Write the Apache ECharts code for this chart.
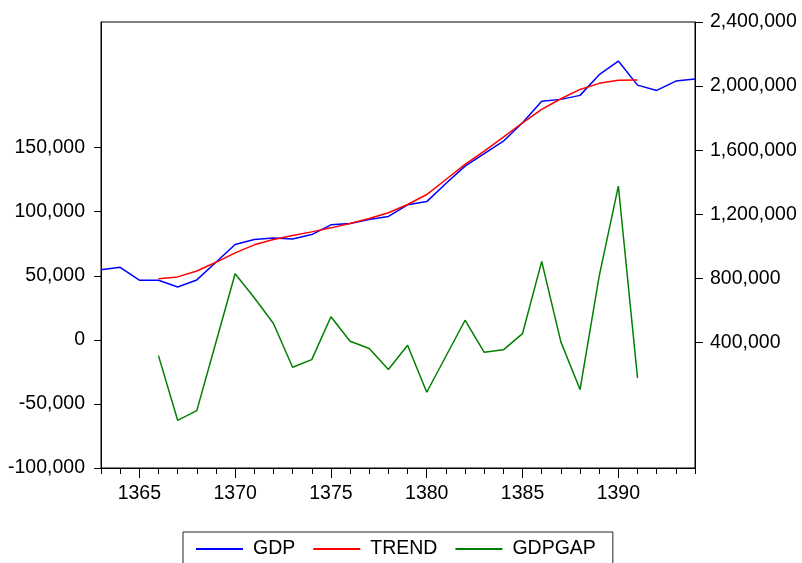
<!DOCTYPE html>
<html>
<head>
<meta charset="utf-8">
<title>GDP / TREND / GDPGAP</title>
<script src="https://cdn.jsdelivr.net/npm/echarts@6/dist/echarts.min.js"></script>
<style>
    html, body { margin: 0; padding: 0; background: #fff; }
    #gapChart { width: 802px; height: 563px; }
</style>
</head>
<body>
<div id="gapChart"></div>
<script>
// years on the x axis
var years = [1363, 1364, 1365, 1366, 1367, 1368, 1369, 1370, 1371, 1372, 1373, 1374, 1375, 1376, 1377, 1378,
    1379, 1380, 1381, 1382, 1383, 1384, 1385, 1386, 1387, 1388, 1389, 1390, 1391, 1392, 1393, 1394];

// GDP (right axis), 1363-1394
var gdp = [854000, 869000, 788000, 788000, 746000, 790000, 900000, 1011000, 1042000, 1052000, 1046000, 1073000,
    1134000, 1142000, 1167000, 1186000, 1259000, 1279000, 1392000, 1500000, 1579000, 1656000, 1771000, 1906000,
    1917000, 1942000, 2071000, 2156000, 2006000, 1973000, 2031000, 2044000];

// HP trend (right axis), 1366-1391
var trend = [798000, 809000, 846000, 900000, 959000, 1009000, 1042000, 1067000, 1090000, 1115000, 1142000, 1173000,
    1209000, 1261000, 1323000, 1417000, 1511000, 1594000, 1681000, 1771000, 1854000, 1921000, 1979000, 2017000,
    2036000, 2038000];

// output gap (left axis), 1366-1391
var gdpGap = [-12300, -62800, -55200, -1900, 51600, 32800, 12700, -21400, -15400, 18000, -1100, -6800,
    -23200, -4200, -40900, -12800, 15300, -9700, -7800, 4900, 61200, -1600, -38800, 49700, 120000, -29700];

var leftTicks = [-100000, -50000, 0, 50000, 100000, 150000];
var rightTicks = [400000, 800000, 1200000, 1600000, 2000000, 2400000];
var firstYear = 1366;

// pad the short series so they line up with years
function padSeries(arr) {
    var out = [];
    var start = years.indexOf(firstYear);
    for (var i = 0; i < years.length; i++) {
        var j = i - start;
        out.push(j >= 0 && j < arr.length ? arr[j] : null);
    }
    return out;
}

function fmt(v) {
    return Number(v).toLocaleString('en-US');
}

var font = "'Liberation Sans', Arial, sans-serif";
var txt = { color: '#000', fontSize: 19.5, fontFamily: font };

var chart = echarts.init(document.getElementById('gapChart'), null, { renderer: 'canvas' });

chart.setOption({
    animation: false,
    backgroundColor: '#fff',
    grid: {
        show: true,
        left: 101,
        right: 107,
        top: 22,
        bottom: 95,
        borderColor: '#000',
        borderWidth: 1
    },
    legend: {
        left: 183,
        top: 532,
        padding: [7, 17, 7, 13],
        borderColor: '#222',
        borderWidth: 1,
        icon: 'rect',
        itemWidth: 47,
        itemHeight: 2,
        itemGap: 18,
        textStyle: { color: '#000', fontSize: 19.5, fontFamily: font, padding: [0, 0, 0, 5] },
        data: ['GDP', 'TREND', 'GDPGAP']
    },
    xAxis: [{
        type: 'category',
        data: years,
        boundaryGap: false,
        axisLine: { show: true, onZero: false, lineStyle: { color: '#000', width: 1 } },
        axisTick: { show: true, interval: 0, length: 6, lineStyle: { color: '#000' } },
        axisLabel: Object.assign({
            margin: 16,
            interval: function (idx, val) { return Number(val) % 5 === 0; }
        }, txt),
        splitLine: { show: false }
    }, {
        // second axis only for the longer ticks every 5 years
        type: 'category',
        data: years,
        position: 'bottom',
        boundaryGap: false,
        axisLine: { show: false, onZero: false },
        axisTick: {
            show: true,
            length: 10,
            interval: function (idx, val) { return Number(val) % 5 === 0; },
            lineStyle: { color: '#000' }
        },
        axisLabel: { show: false },
        splitLine: { show: false }
    }],
    yAxis: [{
        type: 'value',
        position: 'left',
        min: -100000,
        max: 248000,
        axisLine: { show: true, lineStyle: { color: '#000' } },
        axisTick: { show: true, length: 7, customValues: leftTicks, lineStyle: { color: '#000' } },
        axisLabel: Object.assign({ margin: 16, customValues: leftTicks, formatter: fmt }, txt),
        splitLine: { show: false }
    }, {
        type: 'value',
        position: 'right',
        min: -384000,
        max: 2400000,
        axisLine: { show: true, lineStyle: { color: '#000' } },
        axisTick: { show: true, length: 8, customValues: rightTicks, lineStyle: { color: '#000' } },
        axisLabel: Object.assign({ margin: 15, customValues: rightTicks, formatter: fmt }, txt),
        splitLine: { show: false }
    }],
    series: [{
        name: 'GDP',
        type: 'line',
        yAxisIndex: 1,
        symbol: 'none',
        lineStyle: { color: '#0000ff', width: 1.5 },
        itemStyle: { color: '#0000ff' },
        data: gdp
    }, {
        name: 'TREND',
        type: 'line',
        yAxisIndex: 1,
        symbol: 'none',
        lineStyle: { color: '#ff0000', width: 1.5 },
        itemStyle: { color: '#ff0000' },
        data: padSeries(trend)
    }, {
        name: 'GDPGAP',
        type: 'line',
        yAxisIndex: 0,
        symbol: 'none',
        lineStyle: { color: '#008000', width: 1.5 },
        itemStyle: { color: '#008000' },
        data: padSeries(gdpGap)
    }]
});
</script>
</body>
</html>
